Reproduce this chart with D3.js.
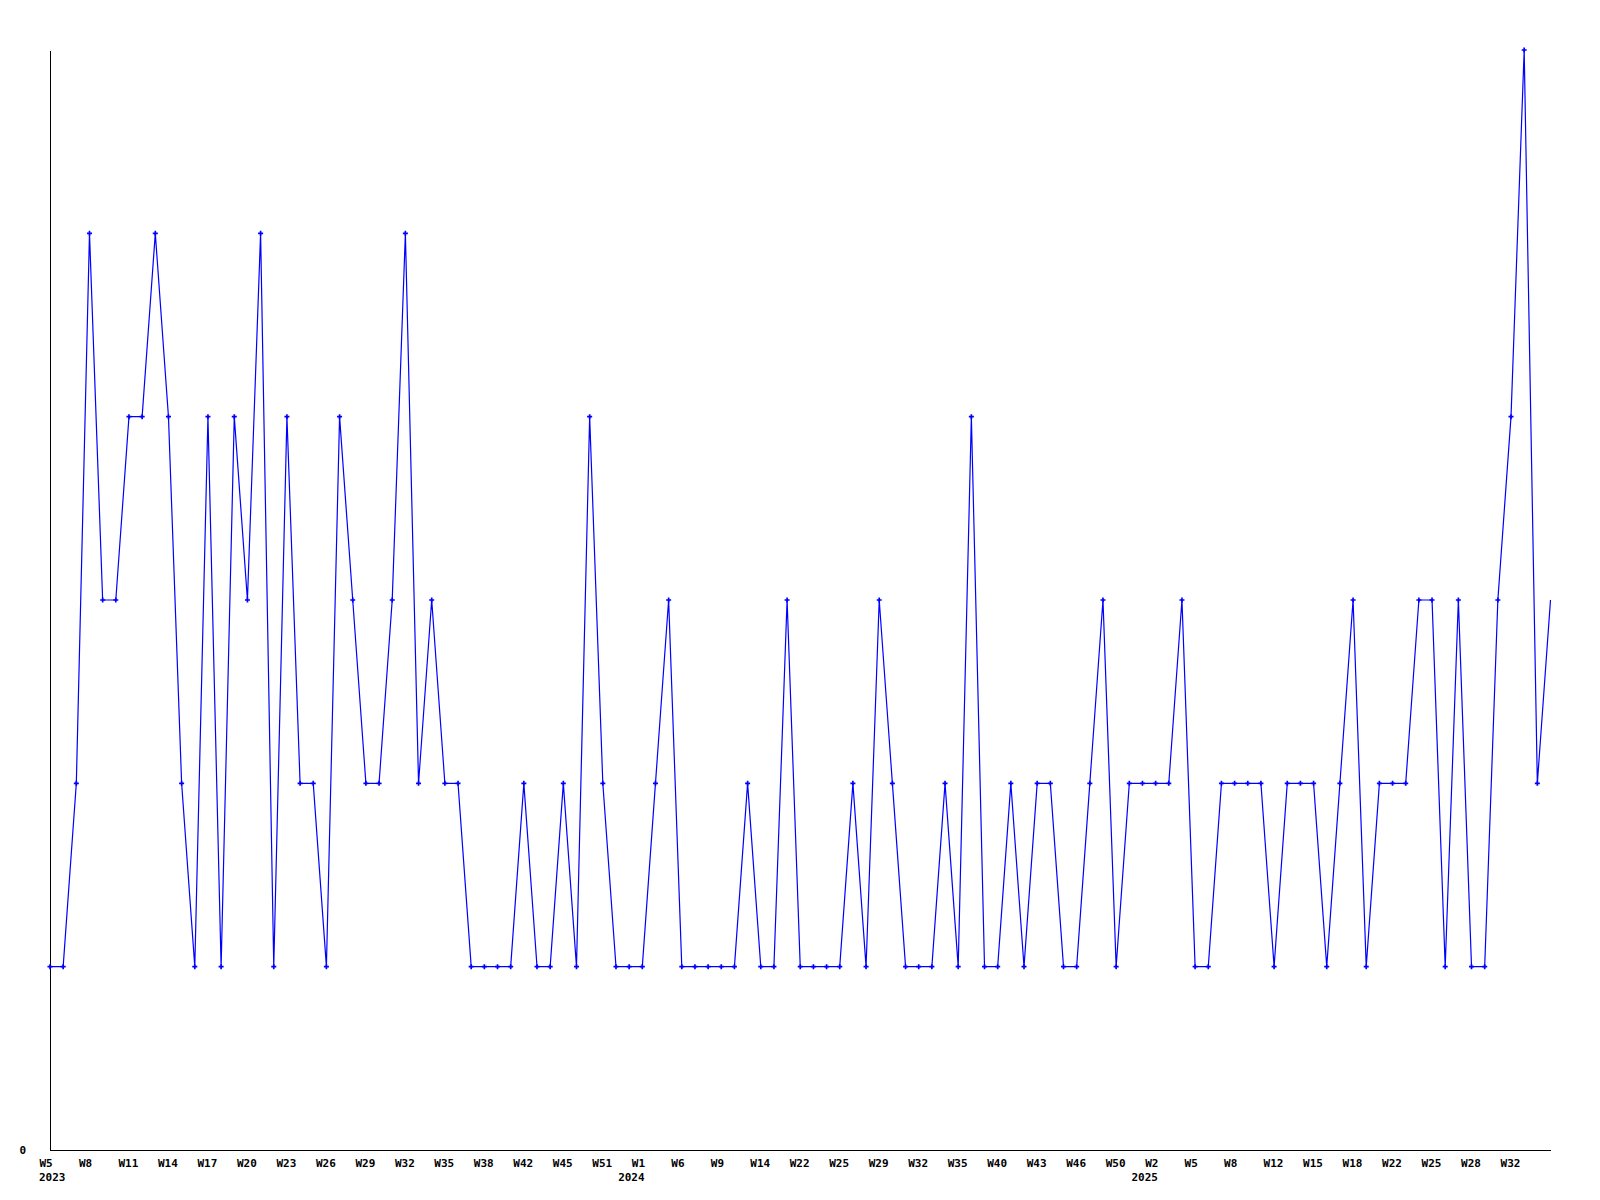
<!DOCTYPE html>
<html>
<head>
<meta charset="utf-8">
<script src="https://cdn.jsdelivr.net/npm/d3@7"></script>
<style>
  html, body { margin: 0; padding: 0; background: #ffffff; }
  svg text { font-family: "DejaVu Sans Mono", "Liberation Mono", monospace; font-weight: bold; font-size: 11px; fill: #000; }
</style>
</head>
<body>
<script>
// Weekly values (one per data point, in order)
const values = [
  1,1,2,5,3,3,4,4,5,4,
  2,1,4,1,4,3,5,1,4,2,
  2,1,4,3,2,2,3,5,2,3,
  2,2,1,1,1,1,2,1,1,2,
  1,4,2,1,1,1,2,3,1,1,
  1,1,1,2,1,1,3,1,1,1,
  1,2,1,3,2,1,1,1,2,1,
  4,1,1,2,1,2,2,1,1,2,
  3,1,2,2,2,2,3,1,1,2,
  2,2,2,1,2,2,2,1,2,3,
  1,2,2,2,3,3,1,3,1,1,
  3,4,6,2,3
];
// Week tick labels, shown on every third point
const weekLabels = [
  "W5","W8","W11","W14","W17","W20","W23","W26","W29","W32","W35","W38","W42","W45","W51",
  "W1","W6","W9","W14","W22","W25","W29","W32","W35","W40","W43","W46","W50",
  "W2","W5","W8","W12","W15","W18","W22","W25","W28","W32"
];
const weekLabelStep = 3;
// Year labels at the first point of each year
const yearLabels = ["2023","2024","2025"];
const yearIndices = [0, 44, 83];
const yTicks = [0];

const W = 1600, H = 1200;
const svg = d3.select("body").append("svg").attr("width", W).attr("height", H);

const x = d3.scaleLinear().domain([0, values.length - 1]).range([50, 1550.5]);
const y = d3.scaleLinear().domain([0, d3.max(values)]).range([1150, 50]);

// X axis with week labels
const tickIdx = weekLabels.map((_, i) => i * weekLabelStep);
const xAxis = d3.axisBottom(x)
  .tickValues(tickIdx)
  .tickFormat((d, i) => weekLabels[i])
  .tickSize(0).tickSizeOuter(0).tickPadding(0);
const gx = svg.append("g").attr("transform", "translate(0,0.5)").attr("transform", `translate(0,${0})`);
gx.attr("transform", "translate(0,1150)").call(xAxis);
gx.select(".domain").attr("stroke", "#000").attr("stroke-width", 1).attr("shape-rendering", "crispEdges");
gx.selectAll(".tick text")
  .attr("text-anchor", "start").attr("dx", -11).attr("y", 17).attr("dy", 0)
  .attr("fill", "#000");
gx.attr("font-family", null).attr("font-size", null);

// Year labels
svg.append("g").selectAll("text").data(yearLabels).join("text")
  .attr("x", (d, i) => x(yearIndices[i]) - 11)
  .attr("y", 1181)
  .text(d => d);

// Y axis
const yAxis = d3.axisLeft(y).tickValues(yTicks).tickFormat(d3.format("d"))
  .tickSize(0).tickSizeOuter(0).tickPadding(24);
const gy = svg.append("g").attr("transform", "translate(50,0)").call(yAxis);
gy.select(".domain").attr("stroke", "#000").attr("stroke-width", 1).attr("shape-rendering", "crispEdges");
gy.selectAll(".tick text").attr("dy", "0.32em").attr("fill", "#000");
gy.attr("font-family", null).attr("font-size", null);

// Line
const line = d3.line().x((d, i) => x(i)).y(d => y(d));
svg.append("path").datum(values)
  .attr("d", line)
  .attr("fill", "none")
  .attr("stroke", "#0000ff")
  .attr("stroke-width", 1.2);

// Point markers (last point drawn without marker as in the reference)
const sym = d3.symbol().type(d3.symbolCross).size(14);
svg.append("g").selectAll("path")
  .data(values.slice(0, values.length - 1))
  .join("path")
  .attr("transform", (d, i) => `translate(${x(i)},${y(d)})`)
  .attr("d", sym)
  .attr("fill", "#0000ff");
</script>
</body>
</html>
